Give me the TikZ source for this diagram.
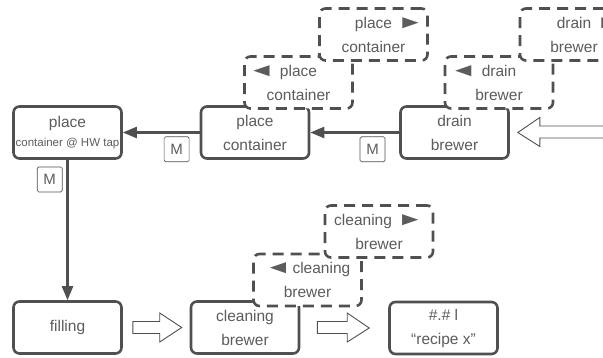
\documentclass[tikz,border=0pt]{standalone}
\usepackage{fontspec}
\usepackage{graphicx}
\setmainfont{Liberation Sans}
\usetikzlibrary{arrows.meta,positioning,calc}
\definecolor{linegray}{RGB}{80,80,80}
\definecolor{textgray}{RGB}{92,92,92}
\newcommand{\lefttri}{\scalebox{1.75}[1.2]{◄}}
\newcommand{\righttri}{\scalebox{1.75}[1.2]{►}}
\newcommand{\backtri}{\llap{\lefttri\kern5pt}}
\newcommand{\fwdtri}{\rlap{\kern5pt\righttri}}

\begin{document}
\begin{tikzpicture}[x=1pt,y=-1pt,
  stepbox/.style={draw=linegray, line width=2.6pt, rounded corners=6pt, fill=white,
    minimum width=108pt, minimum height=52pt, inner sep=1pt, align=center,
    text=textgray, font=\fontsize{15.5}{24}\selectfont},
  altbox/.style={stepbox, dash pattern=on 11pt off 7pt},
  mbox/.style={draw=linegray, line width=0.6pt, rounded corners=1.5pt,
    minimum size=25pt, inner sep=0pt, text=textgray, font=\fontsize{15}{15}\selectfont},
  flow/.style={draw=linegray, line width=2.4pt, -{Triangle[length=14pt,width=11pt]}},
  fat/.style={draw=linegray, line width=0.9pt, fill=white,
    to path={let \p1=(\tikztostart), \p2=(\tikztotarget), \p3=($(\p2)!22pt!(\p1)$) in
      (\x1,\y1+6pt) -- (\x3,\y1+6pt) -- (\x3,\y1+14.5pt) -- (\x2,\y2)
      -- (\x3,\y1-14.5pt) -- (\x3,\y1-6pt) -- (\x1,\y1-6pt) -- cycle}}]
  \clip (0,0) rectangle (603,358);

  % steps
  \node[stepbox] (tap) at (67.5,132.5)
    {place\\[-5pt]{\fontsize{11.5}{13}\selectfont container @ HW tap}};
  \node[stepbox] (place) at (255,132.5) {place\\container};
  \node[stepbox] (drain) at (454.5,132.5) {drain\\brewer};
  \node[stepbox] (filling) at (67.5,327.5) {filling};
  \node[stepbox] (cleaning) at (245,327.5) {cleaning\\brewer};
  \node[stepbox] (recipe) at (443.5,328) {\#.\# l\\“recipe x”};

  % manual transitions
  \draw[flow] (place.west) -- node[mbox, pos=0.3, below=4pt] (m1) {M} (tap.east);
  \draw[flow] (drain.west) -- node[mbox, pos=0.3, below=4pt] (m2) {M} (place.east);
  \draw[flow] (tap.south) -- node[mbox, pos=0.14, left=5pt] (m3) {M} (filling.north);

  % hollow arrows
  \coordinate (feed) at (640,132);
  \draw[fat] (feed) to ([xshift=8pt]drain.east);
  \draw[fat] ([xshift=10pt]filling.east) to ([xshift=-8pt]cleaning.west);
  \draw[fat] ([xshift=17pt]cleaning.east) to ([xshift=-19pt]recipe.west);

  % back / forward variants
  \node[altbox] (placeback) at (298.5,82.5) {\backtri place\\container};
  \node[altbox] (placefwd) at (373.5,34.5) {place\fwdtri\\container};
  \node[altbox] (drainback) at (499,82.5) {\backtri drain\\brewer};
  \node[altbox] (drainfwd) at (574,34.5) {drain\fwdtri\\brewer};
  \node[altbox] (cleanback) at (307.5,280) {\lefttri\kern1pt cleaning\\brewer};
  \node[altbox] (cleanfwd) at (379,231.5) {cleaning\kern5pt\righttri\\brewer};
\end{tikzpicture}
\end{document}
